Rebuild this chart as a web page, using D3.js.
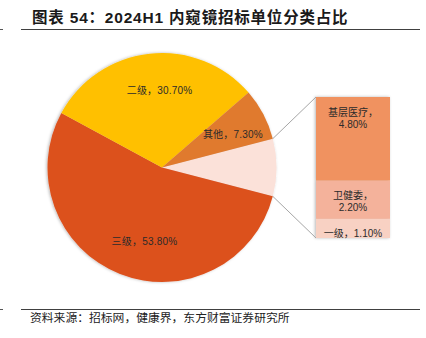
<!DOCTYPE html>
<html><head><meta charset="utf-8">
<script src="https://cdn.jsdelivr.net/npm/d3@7/dist/d3.min.js"></script>
<style>body{margin:0;background:#fff}svg{display:block}</style>
</head><body><svg id="c" width="426" height="338"></svg>
<script>
// ---- data ----
const titleText = "图表 54：2024H1 内窥镜招标单位分类占比";
const sourceText = "资料来源：招标网，健康界，东方财富证券研究所";
const pieCategories = ["细分", "三级", "二级", "其他"];
const pieValues = [8.1, 53.8, 30.7, 7.3];
const barCategories = ["基层医疗", "卫健委", "一级"];
const barValues = [4.8, 2.2, 1.1];

// ---- styles ----
const pieColors = {"细分": "#FBE1D9", "三级": "#DC511F", "二级": "#FFC000", "其他": "#E07A2E"};
const barColors = {"基层医疗": "#F09260", "卫健委": "#F4B29B", "一级": "#F8D1C3"};
const fontFam = "'Liberation Sans','Noto Sans CJK SC',sans-serif";
const textColor = "#2b2b2b";

const svg = d3.select("#c");
const defs = svg.append("defs");
const f = defs.append("filter").attr("id", "sh").attr("x", "-10%").attr("y", "-10%").attr("width", "120%").attr("height", "120%");
f.append("feDropShadow").attr("dx", -1).attr("dy", 0).attr("stdDeviation", 1.6).attr("flood-color", "#000").attr("flood-opacity", 0.28);

// title & frame lines
svg.append("text").attr("x", 32).attr("y", 23).text(titleText)
  .attr("font-family", "'Liberation Sans','Noto Sans CJK SC',sans-serif")
  .attr("font-weight", "bold").attr("font-size", 15.5).attr("letter-spacing", 0.8).attr("fill", "#1a1a1a");
svg.append("line").attr("x1", 21).attr("x2", 420).attr("y1", 29.5).attr("y2", 29.5).attr("stroke", "#404040").attr("stroke-width", 1);
svg.append("line").attr("x1", 0).attr("x2", 3).attr("y1", 29.5).attr("y2", 29.5).attr("stroke", "#555");
svg.append("line").attr("x1", 21).attr("x2", 420).attr("y1", 309.5).attr("y2", 309.5).attr("stroke", "#404040").attr("stroke-width", 1);
svg.append("line").attr("x1", 0).attr("x2", 3).attr("y1", 309.5).attr("y2", 309.5).attr("stroke", "#555");
svg.append("text").attr("x", 30).attr("y", 322).text(sourceText)
  .attr("font-family", fontFam).attr("font-size", 11.8).attr("fill", "#222");

// ---- pie ----
const cx = 162, cy = 167.5, R = 114.5;
const total = d3.sum(pieValues);
const startA = Math.PI / 2 - (pieValues[0] / total) * Math.PI;
const pie = d3.pie().sort(null).value(d => d.v).startAngle(startA).endAngle(startA + 2 * Math.PI);
const pieData = pie(pieCategories.map((c, i) => ({c, v: pieValues[i]})));
const arc = d3.arc().innerRadius(0).outerRadius(R);
const labelArc = d3.arc().innerRadius(R * 0.68).outerRadius(R * 0.68);
const gp = svg.append("g").attr("transform", `translate(${cx},${cy})`);
gp.append("g").attr("filter", "url(#sh)").selectAll("path").data(pieData).join("path")
  .attr("d", arc).attr("fill", d => pieColors[d.data.c]);
const nudge = {"三级": [11, 2], "二级": [6, 0], "其他": [2, 3]};
gp.selectAll("text.pl").data(pieData.slice(1)).join("text").attr("class", "pl")
  .attr("transform", d => { const p = labelArc.centroid(d); const n = nudge[d.data.c]; return `translate(${p[0] + n[0]},${p[1] + n[1]})`; })
  .attr("text-anchor", "middle").attr("dy", "0.35em")
  .attr("font-family", fontFam).attr("font-size", 10).attr("letter-spacing", 0.2).attr("fill", textColor)
  .text(d => `${d.data.c}，${d.data.v.toFixed(2)}%`);

// ---- bar of pie ----
const bx = 316, bw = 74;
const y = d3.scaleLinear().domain([0, d3.sum(barValues)]).range([238, 97]);
let acc = 0;
const segs = barCategories.map((c, i) => ({c, v: barValues[i]})).reverse().map(d => { const s = {...d, y0: acc, y1: acc + d.v}; acc += d.v; return s; });
const gb = svg.append("g");
gb.append("g").attr("filter", "url(#sh)").selectAll("rect").data(segs).join("rect")
  .attr("x", bx).attr("width", bw).attr("y", d => y(d.y1)).attr("height", d => y(d.y0) - y(d.y1))
  .attr("fill", d => barColors[d.c]);

// connector lines
const pink = pieData[0];
const pt = a => [cx + R * Math.sin(a), cy - R * Math.cos(a)];
const p0 = pt(pink.startAngle), p1 = pt(pink.endAngle);
svg.append("line").attr("x1", p0[0]).attr("y1", p0[1]).attr("x2", bx).attr("y2", y(acc)).attr("stroke", "#A6A6A6").attr("stroke-width", 1);
svg.append("line").attr("x1", p1[0]).attr("y1", p1[1]).attr("x2", bx).attr("y2", y(0)).attr("stroke", "#A6A6A6").attr("stroke-width", 1);

// bar labels
segs.forEach(d => {
  const full = `${d.c}，${d.v.toFixed(2)}%`;
  const t = gb.append("text").attr("x", bx + bw / 2).attr("text-anchor", "middle")
    .attr("font-family", fontFam).attr("font-size", 10).attr("fill", textColor);
  const top = y(d.y1) + 15;
  t.text(full);
  if (t.node().getComputedTextLength() > bw - 6) {
    t.text(null);
    t.append("tspan").attr("x", bx + bw / 2).attr("y", top).attr("dy", "0.35em").text(`${d.c}，`);
    t.append("tspan").attr("x", bx + bw / 2).attr("y", top + 12).attr("dy", "0.35em").text(`${d.v.toFixed(2)}%`);
  } else {
    t.attr("y", top).attr("dy", "0.35em");
  }
});
</script></body></html>
